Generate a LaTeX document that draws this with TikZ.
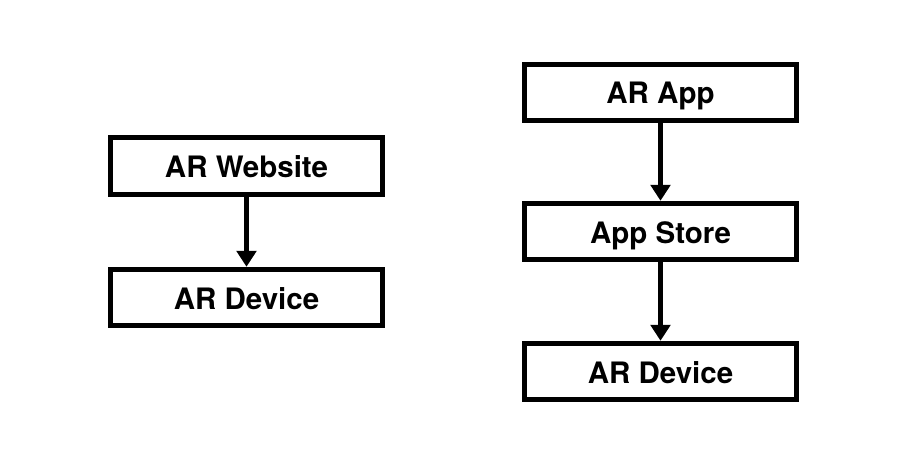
\documentclass[tikz,border=0pt]{standalone}
\usepackage{fontspec}
\setmainfont{TeX Gyre Heros}
\usetikzlibrary{arrows.meta}
\begin{document}
\begin{tikzpicture}[x=1pt,y=-1pt,
  box/.style={draw=black, line width=5pt, minimum width=272pt, minimum height=56.4pt, inner sep=0pt, outer sep=2.5pt, fill=white, text height=23pt, text depth=0pt, font=\fontsize{29.5}{31}\selectfont\bfseries},
  conn/.style={line width=4.7pt, -{Triangle[width=19.5pt,length=16pt]}}]
\useasboundingbox[fill=white] (0,0) rectangle (912,468);
\node[box] (web) at (246.5,166) {AR Website};
\node[box] (dev1) at (246.5,297.5) {AR Device};
\node[box] (app) at (660.5,92.5) {AR App};
\node[box] (store) at (660.5,231.5) {App Store};
\node[box] (dev2) at (660.5,371.5) {AR Device};
\draw[conn] (web) -- (dev1);
\draw[conn] (app) -- (store);
\draw[conn] (store) -- (dev2);
\end{tikzpicture}
\end{document}
